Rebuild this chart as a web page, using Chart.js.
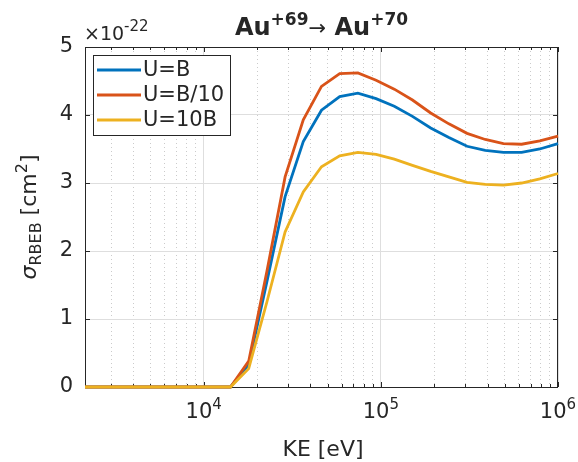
<!DOCTYPE html>
<html>
<head>
<meta charset="utf-8">
<script src="https://cdn.jsdelivr.net/npm/chart.js@4.4.0/dist/chart.umd.min.js"></script>
<style>
  body { margin: 0; background: #fff; }
  #wrap { width: 578px; height: 462px; }
</style>
</head>
<body>
<div id="wrap"><canvas id="cs" width="578" height="462"></canvas></div>
<script>
// kinetic energy grid [eV]
const ke = [2138, 2710, 3430, 4345, 5505, 6970, 8830, 11190, 14170, 17950, 22740, 28810, 36490,
  46230, 58570, 74190, 93980, 119100, 150800, 191100, 242100, 306600, 388400, 492100, 623400, 789700, 1000000];

// cross sections, units of 1e-22 cm^2
const sigB = [0, 0, 0, 0, 0, 0, 0, 0, 0, 0.33, 1.55, 2.80, 3.61, 4.07, 4.27, 4.32, 4.24, 4.13,
  3.98, 3.81, 3.67, 3.54, 3.48, 3.45, 3.45, 3.50, 3.58];
const sigB10 = [0, 0, 0, 0, 0, 0, 0, 0, 0, 0.38, 1.70, 3.09, 3.93, 4.42, 4.61, 4.62, 4.51, 4.38,
  4.22, 4.03, 3.87, 3.73, 3.64, 3.58, 3.57, 3.62, 3.69];
const sig10B = [0, 0, 0, 0, 0, 0, 0, 0, 0, 0.27, 1.25, 2.28, 2.87, 3.24, 3.40, 3.45, 3.42, 3.35,
  3.26, 3.17, 3.09, 3.01, 2.98, 2.97, 3.00, 3.06, 3.14];

const seriesNames = ['U=B', 'U=B/10', 'U=10B'];
const seriesColors = ['#0072BD', '#D95319', '#EDB120'];

const xGrid = [3e3, 4e3, 5e3, 6e3, 7e3, 8e3, 9e3, 1e4, 2e4, 3e4, 4e4, 5e4, 6e4, 7e4, 8e4, 9e4,
  1e5, 2e5, 3e5, 4e5, 5e5, 6e5, 7e5, 8e5, 9e5, 1e6];
const xLabels = [[1e4, '4'], [1e5, '5'], [1e6, '6']];
const yTicks = [0, 1, 2, 3, 4, 5];

const fam = '"DejaVu Sans", sans-serif';
const ink = '#262626';
const isMajor = v => Math.abs(Math.log10(v) - Math.round(Math.log10(v))) < 1e-9;

function drawRuns(ctx, runs, x, y, align) {
  let w = 0;
  runs.forEach(r => { ctx.font = r[1]; w += ctx.measureText(r[0]).width; });
  let cx = align === 'center' ? x - w / 2 : (align === 'right' ? x - w : x);
  ctx.textAlign = 'left';
  ctx.textBaseline = 'alphabetic';
  runs.forEach(r => {
    ctx.font = r[1];
    ctx.fillText(r[0], cx, y + r[2]);
    cx += ctx.measureText(r[0]).width;
  });
}

const decor = {
  id: 'decor',
  beforeDatasetsDraw(chart) {
    const { ctx, chartArea: a, scales: { x, y } } = chart;
    ctx.save();
    ctx.strokeStyle = ink;
    ctx.lineWidth = 1;
    ctx.strokeRect(a.left + 0.5, a.top + 0.5, a.right - a.left - 1, a.bottom - a.top);
    ctx.beginPath();
    xGrid.forEach(v => {
      const px = Math.round(x.getPixelForValue(v)) + 0.5;
      const len = isMajor(v) ? 5 : 3;
      ctx.moveTo(px, a.bottom); ctx.lineTo(px, a.bottom - len);
      ctx.moveTo(px, a.top); ctx.lineTo(px, a.top + len);
    });
    yTicks.forEach(v => {
      const py = Math.round(y.getPixelForValue(v)) + 0.5;
      ctx.moveTo(a.left, py); ctx.lineTo(a.left + 5, py);
      ctx.moveTo(a.right, py); ctx.lineTo(a.right - 5, py);
    });
    ctx.stroke();
    ctx.restore();
  },
  afterDraw(chart) {
    const { ctx, chartArea: a, scales: { x, y } } = chart;
    ctx.save();
    ctx.fillStyle = ink;

    // y tick labels
    ctx.font = '21px ' + fam;
    ctx.textAlign = 'right';
    ctx.textBaseline = 'middle';
    yTicks.forEach(v => ctx.fillText(String(v), 73, y.getPixelForValue(v)));

    // x tick labels 10^n
    xLabels.forEach(([v, p]) => {
      drawRuns(ctx, [['10', '21px ' + fam, 0], [p, '15px ' + fam, -9]], x.getPixelForValue(v), 418, 'center');
    });

    // exponent label
    drawRuns(ctx, [['\u00d710', '19px ' + fam, 0], ['-22', '15px ' + fam, -9]], 84, 40, 'left');

    // title
    drawRuns(ctx, [
      ['Au', 'bold 24px ' + fam, 0],
      ['+69', 'bold 17px ' + fam, -10],
      ['\u2192', '21px ' + fam, 0],
      [' Au', 'bold 24px ' + fam, 0],
      ['+70', 'bold 17px ' + fam, -10]
    ], (a.left + a.right) / 2, 35, 'center');

    // x axis label
    ctx.font = '22px ' + fam;
    ctx.textAlign = 'center';
    ctx.textBaseline = 'alphabetic';
    ctx.fillText('KE [eV]', 323, 456);

    // y axis label
    ctx.save();
    ctx.translate(36, (a.top + a.bottom) / 2);
    ctx.rotate(-Math.PI / 2);
    drawRuns(ctx, [
      ['\u03c3', 'italic 22px ' + fam, 0],
      ['RBEB', '16px ' + fam, 5],
      [' [cm', '22px ' + fam, 0],
      ['2', '16px ' + fam, -9],
      [']', '22px ' + fam, 0]
    ], 0, 0, 'center');
    ctx.restore();

    // legend
    ctx.fillStyle = '#fff';
    ctx.fillRect(93.5, 55.5, 137, 80);
    ctx.strokeStyle = ink;
    ctx.lineWidth = 1;
    ctx.strokeRect(93.5, 55.5, 137, 80);
    ctx.font = '21px ' + fam;
    ctx.textAlign = 'left';
    ctx.textBaseline = 'middle';
    seriesNames.forEach((n, i) => {
      const ry = 70 + i * 25;
      ctx.strokeStyle = seriesColors[i];
      ctx.lineWidth = 2.8;
      ctx.beginPath();
      ctx.moveTo(97, ry); ctx.lineTo(141, ry);
      ctx.stroke();
      ctx.fillStyle = ink;
      ctx.fillText(n, 143, ry + 1);
    });
    ctx.restore();
  }
};

const sets = [sigB, sigB10, sig10B];

new Chart(document.getElementById('cs'), {
  type: 'line',
  data: {
    datasets: sets.map((s, i) => ({
      label: seriesNames[i],
      data: ke.map((e, j) => ({ x: e, y: s[j] })),
      borderColor: seriesColors[i],
      borderWidth: 2.8,
      pointRadius: 0,
      tension: 0,
      clip: 4,
      order: 2 - i
    }))
  },
  options: {
    responsive: false,
    animation: false,
    layout: { padding: { left: 85, right: 20, top: 47, bottom: 75 } },
    plugins: { legend: { display: false }, tooltip: { enabled: false } },
    scales: {
      x: {
        type: 'logarithmic',
        min: ke[0],
        max: 1e6,
        afterBuildTicks: s => { s.ticks = xGrid.map(v => ({ value: v })); },
        afterFit: s => { s.height = 0; },
        ticks: { display: false },
        grid: {
          drawTicks: false,
          color: c => isMajor(c.tick.value) ? '#dedede' : '#cbcbcb',
          lineWidth: 1
        },
        border: { display: false, dash: c => isMajor(c.tick.value) ? [] : [1, 3] }
      },
      y: {
        min: 0,
        max: 5,
        afterBuildTicks: s => { s.ticks = yTicks.map(v => ({ value: v })); },
        afterFit: s => { s.width = 0; },
        ticks: { display: false },
        grid: { drawTicks: false, color: '#dedede', lineWidth: 1 },
        border: { display: false }
      }
    }
  },
  plugins: [decor]
});
</script>
</body>
</html>
